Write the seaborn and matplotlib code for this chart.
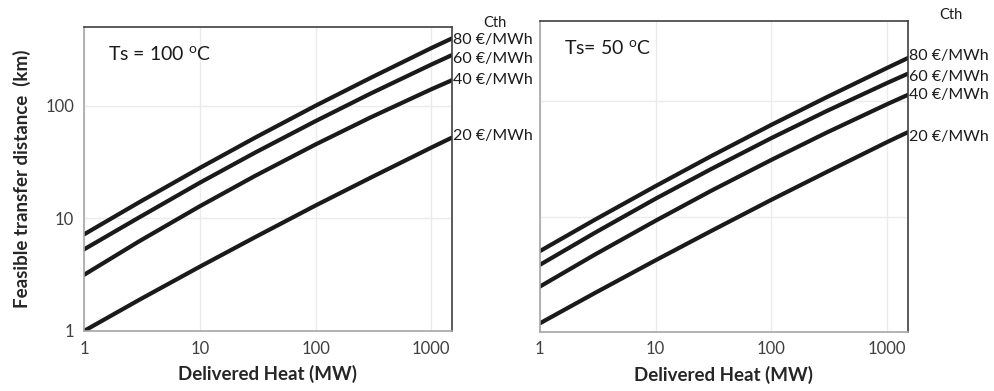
import matplotlib
matplotlib.use('Agg')
import matplotlib.pyplot as plt
import pandas as pd
import seaborn as sns

sns.set_style('white')
plt.rcParams.update({
    'font.family': ['Lato', 'DejaVu Sans'],
    'font.size': 11,
    'mathtext.fontset': 'custom',
    'mathtext.rm': 'Lato',
})

# Delivered heat (MW) at which distances were read
heat = [1, 3, 10, 30, 100, 300, 1000, 1500]
costs = ['80 €/MWh', '60 €/MWh', '40 €/MWh', '20 €/MWh']

# Ts = 100 C, feasible transfer distance (km)
dist_100 = {
    '80 €/MWh': [7.2, 13.9, 28, 52, 100, 177, 325, 395],
    '60 €/MWh': [5.3, 10.2, 20.7, 38.3, 73, 128.5, 232, 281],
    '40 €/MWh': [3.15, 6.26, 12.8, 23.8, 45.3, 78.9, 140, 168],
    '20 €/MWh': [1.0, 1.89, 3.72, 6.8, 13, 23, 42.5, 52],
}
# Ts = 50 C
dist_50 = {
    '80 €/MWh': [5.0, 9.4, 18.4, 33.4, 62.7, 109, 196, 238],
    '60 €/MWh': [3.8, 7.24, 14.3, 25.8, 48.1, 82.6, 145, 174],
    '40 €/MWh': [2.46, 4.68, 9.2, 16.7, 31.1, 53.7, 94.9, 114],
    '20 €/MWh': [1.18, 2.17, 4.17, 7.47, 14, 24.4, 44.5, 54],
}
# where the cost labels sit (km) beside the line ends
label_y_100 = [385, 259, 168, 54]
label_y_50 = [250, 163, 113, 49]


def to_long(d):
    rows = []
    for c in costs:
        for h, v in zip(heat, d[c]):
            rows.append({'heat': h, 'dist': v, 'cost': c})
    return pd.DataFrame(rows)


fig = plt.figure(figsize=(9.95, 3.91), dpi=100)
ax1 = fig.add_axes([0.0844, 0.1535, 0.3696, 0.7775])
ax2 = fig.add_axes([0.5424, 0.1517, 0.3699, 0.7946])

panels = [
    (ax1, dist_100, label_y_100, 'Ts = 100 $^{\\mathregular{o}}$C', True, 1.014),
    (ax2, dist_50, label_y_50, 'Ts= 50 $^{\\mathregular{o}}$C', False, 1.019),
]

for ax, d, lab_y, title, show_y, cth_y in panels:
    df = to_long(d)
    sns.lineplot(data=df, x='heat', y='dist', hue='cost', hue_order=costs,
                 palette=['#1a1a1a'] * 4, linewidth=3.0, legend=False, ax=ax)
    ax.set_xscale('log')
    ax.set_yscale('log')
    ax.set_xlim(1, 1500)
    ax.set_ylim(1, 500)
    ax.set_xticks([1, 10, 100, 1000])
    ax.set_xticklabels(['1', '10', '100', '1000'])
    ax.set_yticks([1, 10, 100])
    if show_y:
        ax.set_yticklabels(['1', '10', '100'])
        ax.set_ylabel('Feasible transfer distance  (km)', fontweight='bold',
                      fontsize=13.5, color='#262626', labelpad=10)
    else:
        ax.set_yticklabels([])
        ax.set_ylabel('')
    ax.minorticks_off()
    ax.tick_params(axis='both', which='major', length=4, width=1,
                   color='#a6a6a6', labelcolor='#404040', labelsize=12, pad=3)
    ax.grid(True, which='major', color='#ebebeb', linewidth=1)
    ax.set_xlabel('Delivered Heat (MW)', fontweight='bold', fontsize=13.5,
                  color='#262626', labelpad=6)
    for side in ['left', 'bottom']:
        ax.spines[side].set_color('#a6a6a6')
        ax.spines[side].set_linewidth(1.2)
    for side in ['top', 'right']:
        ax.spines[side].set_color('#404040')
        ax.spines[side].set_linewidth(1.2)
    ax.text(0.065, 0.91, title, transform=ax.transAxes, fontsize=14,
            va='center', ha='left', color='#1a1a1a')
    for c, y in zip(costs, lab_y):
        ax.text(1540, y, c, fontsize=11.5, va='center', ha='left',
                color='#1a1a1a', clip_on=False)
    ax.text(1.117, cth_y, 'Cth', transform=ax.transAxes, fontsize=10.5,
            va='center', ha='center', color='#1a1a1a')

fig.savefig('out.png', dpi=100)
